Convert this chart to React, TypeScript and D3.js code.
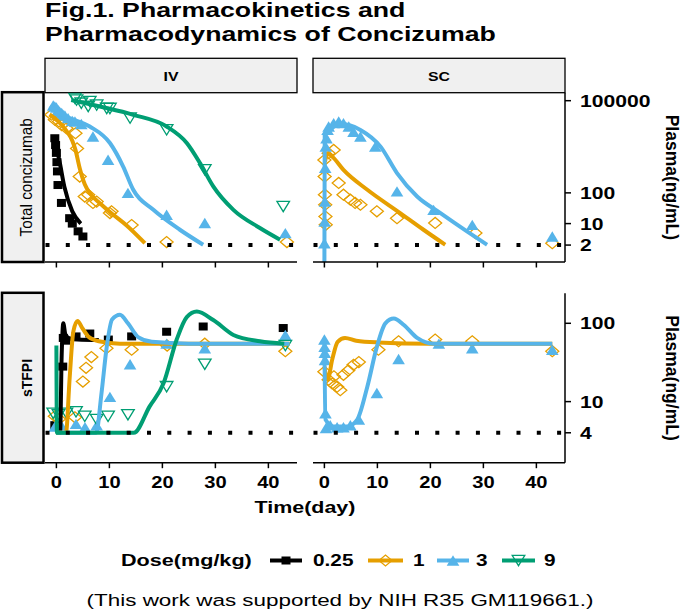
import React from 'react';
import * as d3 from 'd3';

type P = [number, number];

const DOSES = ['0.25', '1', '3', '9'];
const COLORS = ['#000000', '#E69F00', '#56B4E9', '#009E73'];
const ROUTES = ['IV', 'SC'];
const ANALYTES = ['Total concizumab', 'sTFPI'];
const X_TICKS = [0, 10, 20, 30, 40];
const PK_TICKS = [2, 10, 100, 100000];
const PD_TICKS = [4, 10, 100];
const PK_LLOQ = 2;
const PD_LLOQ = 4;

// ---- Total concizumab, IV ----
const IV_PK_025_OBS: P[] = [[-0.3, 6000], [-0.15, 3600], [0, 2000], [0.1, 1000], [0.2, 500], [0.3, 180], [0.95, 47], [2.5, 15], [3.0, 10], [4.1, 5.6], [5.0, 3.8]];
const IV_PK_025_FIT: P[] = [[-0.5, 5600], [0.5, 1260], [1.5, 160], [3.0, 25], [4.6, 10]];
const IV_PK_1_OBS: P[] = [[-0.95, 35000], [-0.3, 24000], [0.5, 21000], [1.0, 16000], [1.9, 12600], [3.6, 8700], [3.9, 2800], [4.4, 340], [5.35, 76], [6.0, 87], [6.9, 47], [7.6, 52], [10.1, 22], [10.4, 25], [14.2, 9], [20.8, 2.5], [43.5, 2.5]];
const IV_PK_1_FIT: P[] = [[-1.3, 35500], [0.5, 20000], [1.9, 10500], [3.0, 5000], [3.6, 2500], [4.4, 630], [5.35, 190], [6.5, 89], [8.2, 46], [10.5, 21], [13.2, 8.9], [16.7, 2.3]];
const IV_PK_3_OBS: P[] = [[-0.6, 70000], [-0.3, 65000], [0, 60000], [0.3, 50000], [0.6, 45000], [1.0, 40000], [1.25, 35000], [1.6, 33000], [2.2, 27000], [3.0, 22000], [3.5, 21000], [4.7, 17400], [6.9, 6800], [9.75, 1200], [13.5, 100], [20.8, 19.5], [28, 10.5], [43.2, 4.9]];
const IV_PK_3_FIT: P[] = [[-1.3, 64600], [1.9, 30200], [6.3, 14500], [10.1, 4200], [12.6, 720], [14.5, 126], [18.3, 28], [23.3, 6.3], [27.7, 2.05]];
const IV_PK_9_OBS: P[] = [[3.5, 120000], [3.8, 105000], [4.7, 83000], [6.0, 65000], [6.3, 93000], [7.6, 72000], [9.5, 56000], [10.1, 56000], [13.9, 27000], [20.8, 11200], [28, 560], [42.8, 36]];
const IV_PK_9_FIT: P[] = [[2.8, 105000], [8.2, 64600], [14.5, 34700], [20.8, 14500], [24.6, 4200], [27.1, 930], [29.6, 162], [33.4, 28], [38.4, 7.2], [42.2, 3.0]];

// ---- Total concizumab, SC ----
const SC_PK_1_OBS: P[] = [[0, 1170], [0.05, 340], [0.1, 87], [0.15, 41], [0.2, 17], [0.25, 9.1], [0.8, 1950], [1.75, 2500], [2.7, 210], [3.6, 87], [4.9, 60], [5.8, 47], [6.8, 41], [9.9, 25], [13.7, 15], [20.9, 10.5], [28.5, 4.9], [43, 2.3]];
const SC_PK_1_FIT: P[] = [[0.1, 1000], [0.6, 1900], [1.5, 1500], [3.6, 560], [8.1, 126], [14.3, 22], [18.7, 6.3], [22.8, 2.05]];
const SC_PK_3_OBS: P[] = [[0, 2.3], [0.05, 11.7], [0.1, 52], [0.15, 650], [0.25, 3200], [0.4, 6000], [0.6, 11200], [0.8, 14500], [1.75, 18600], [2.7, 21000], [3.6, 18600], [4.6, 14500], [5.5, 9800], [6.8, 6800], [9.6, 3200], [13.7, 112], [20.6, 28], [27.9, 9.1], [43, 3.8]];
const SC_PK_3_FIT: P[] = [[0, 0.3], [0.06, 7900], [1.1, 11200], [2.7, 18000], [6.8, 11200], [10.6, 3200], [13.7, 440], [17.5, 76], [21.9, 22], [26.9, 5.6], [30.7, 2.05]];

// ---- sTFPI, IV ----
const IV_PD_025_OBS: P[] = [[-0.3, 5.0], [1.2, 28], [1.3, 65], [1.8, 60], [3.7, 68], [6.3, 74], [9.8, 62], [14.2, 68], [20.8, 78], [27.7, 91], [42.8, 87]];
const IV_PD_025_FIT: P[] = [[0, 4], [0.7, 4], [1.0, 40], [1.3, 100], [1.7, 72], [2.5, 64], [4, 62], [8, 61]];
const IV_PD_1_OBS: P[] = [[-0.3, 6.5], [0.5, 6.0], [3.5, 6.3], [5.0, 18], [5.6, 27], [6.6, 37], [9.45, 48], [14.2, 46], [20.9, 52], [28, 55], [43.2, 44]];
const IV_PD_1_FIT: P[] = [[0, 4], [1.8, 4], [2.5, 20], [3.2, 79], [4.0, 107], [4.8, 89], [6, 68], [8, 59], [12, 55], [44, 55]];
const IV_PD_3_OBS: P[] = [[-0.3, 4.8], [0.9, 5.0], [3.7, 5.2], [5.4, 4.7], [7.6, 5.0], [10.1, 11.5], [13.9, 30], [20.8, 55], [28, 48], [43.2, 71]];
const IV_PD_3_FIT: P[] = [[0, 4], [7.5, 4], [8.5, 12.6], [9.5, 50], [10.5, 112], [12, 129], [13.5, 100], [15.5, 66], [18, 58], [25, 55], [44, 55]];
const IV_PD_9_OBS: P[] = [[-0.6, 7.1], [0.4, 6.8], [1.9, 7.1], [3.7, 7.4], [5.35, 6.5], [7.6, 5.9], [9.75, 6.5], [13.5, 6.8], [20.8, 15.5], [28, 30], [43.2, 52]];
const IV_PD_9_FIT: P[] = [[0, 52], [0.1, 4], [14.6, 4], [17.6, 8.7], [20.2, 17], [22.7, 62], [24.6, 120], [26.5, 141], [29.6, 110], [33.4, 71], [38.4, 59], [43, 55]];

// ---- sTFPI, SC ----
const SC_PD_1_OBS: P[] = [[0, 24], [0.8, 19], [1.5, 17], [1.8, 21], [2.4, 15.5], [3.0, 14], [3.6, 22], [4.5, 25], [5.5, 29.5], [6.5, 32], [10.2, 46], [14.0, 59], [20.9, 62], [27.9, 59], [43, 44]];
const SC_PD_1_FIT: P[] = [[0, 28], [0.6, 19], [1.5, 35], [2.5, 58], [3.9, 65], [6, 60], [10, 57], [20, 55], [43, 55]];
const SC_PD_3_OBS: P[] = [[0, 62], [0.04, 50], [0.08, 42], [0.12, 34], [0.2, 7.1], [0.3, 4.6], [1.1, 5.0], [2.4, 4.7], [3.6, 4.7], [4.9, 5.0], [6.5, 5.9], [9.9, 12.9], [14.0, 35], [21.6, 55], [27.9, 48], [43, 46]];
const SC_PD_3_FIT: P[] = [[0, 55], [0.2, 5.9], [1.75, 4.8], [4.3, 4.8], [6.2, 5.9], [8.1, 15.5], [9.9, 50], [11.5, 100], [13.1, 115], [15, 95], [17.5, 65], [20.6, 55], [43, 55]];

const FONT = '"Liberation Sans", Arial, Helvetica, sans-serif';

const COLS = [{ x0: 45, x1: 297 }, { x0: 313, x1: 565 }];
const ROWS = [{ y0: 92.7, y1: 262 }, { y0: 293.3, y1: 462.7 }];
const X_DOMAIN: [number, number] = [-2.15, 45.4];

const yPK = d3.scaleLog().domain([Math.pow(10, -0.25), Math.pow(10, 5.26)]).range([ROWS[0].y1, ROWS[0].y0]);
const yPD = d3.scaleLog().domain([Math.pow(10, 0.22), Math.pow(10, 2.383)]).range([ROWS[1].y1, ROWS[1].y0]);
const xScales = COLS.map(c => d3.scaleLinear().domain(X_DOMAIN).range([c.x0, c.x1]));

type Series = { dose: number; obs: P[]; fit: P[] };
const PANELS: { row: number; col: number; series: Series[] }[] = [
  { row: 0, col: 0, series: [
    { dose: 0, obs: IV_PK_025_OBS, fit: IV_PK_025_FIT },
    { dose: 1, obs: IV_PK_1_OBS, fit: IV_PK_1_FIT },
    { dose: 2, obs: IV_PK_3_OBS, fit: IV_PK_3_FIT },
    { dose: 3, obs: IV_PK_9_OBS, fit: IV_PK_9_FIT },
  ] },
  { row: 0, col: 1, series: [
    { dose: 1, obs: SC_PK_1_OBS, fit: SC_PK_1_FIT },
    { dose: 2, obs: SC_PK_3_OBS, fit: SC_PK_3_FIT },
  ] },
  { row: 1, col: 0, series: [
    { dose: 0, obs: IV_PD_025_OBS, fit: IV_PD_025_FIT },
    { dose: 1, obs: IV_PD_1_OBS, fit: IV_PD_1_FIT },
    { dose: 2, obs: IV_PD_3_OBS, fit: IV_PD_3_FIT },
    { dose: 3, obs: IV_PD_9_OBS, fit: IV_PD_9_FIT },
  ] },
  { row: 1, col: 1, series: [
    { dose: 1, obs: SC_PD_1_OBS, fit: SC_PD_1_FIT },
    { dose: 2, obs: SC_PD_3_OBS, fit: SC_PD_3_FIT },
  ] },
];

function ST(props: { x: number; y: number; s?: number; size: number; weight?: string; anchor?: string; rotate?: number; dy?: string; children: React.ReactNode }) {
  const { x, y, s = 1.28, size, weight = 'bold', anchor = 'start', rotate = 0, dy, children } = props;
  return (
    <text
      transform={`translate(${x},${y}) scale(${s},1)${rotate ? ` rotate(${rotate})` : ''}`}
      fontSize={size}
      fontWeight={weight}
      textAnchor={anchor as any}
      fontFamily={FONT}
      dy={dy}
      fill="#000"
    >
      {children}
    </text>
  );
}

function Marker({ dose, x, y }: { dose: number; x: number; y: number }) {
  const c = COLORS[dose];
  if (dose === 0) return <rect x={x - 4.5} y={y - 4} width={9} height={8} fill={c} />;
  if (dose === 1) {
    const w = 6.5, h = 5.5;
    return <path d={`M${x - w},${y}L${x},${y - h}L${x + w},${y}L${x},${y + h}Z`} fill="none" stroke={c} strokeWidth={1.3} />;
  }
  if (dose === 2) {
    const w = 6.3, h = 5.2;
    return <path d={`M${x - w},${y + h}L${x},${y - h}L${x + w},${y + h}Z`} fill={c} />;
  }
  const w = 6.3, h = 5.2;
  return <path d={`M${x - w},${y - h}L${x + w},${y - h}L${x},${y + h}Z`} fill="none" stroke={c} strokeWidth={1.3} />;
}

export default function App() {
  const W = 685, H = 612;
  return (
    <svg width={W} height={H} style={{ position: 'absolute', left: 0, top: 0, background: '#fff' }}>
      <rect x={0} y={0} width={W} height={H} fill="#fff" />
      <defs>
        {PANELS.map((p, i) => (
          <clipPath id={`clip${i}`} key={i}>
            <rect x={COLS[p.col].x0} y={ROWS[p.row].y0} width={COLS[p.col].x1 - COLS[p.col].x0} height={ROWS[p.row].y1 - ROWS[p.row].y0} />
          </clipPath>
        ))}
      </defs>

      {/* title */}
      <ST x={45} y={17} size={20} s={1.335}>Fig.1. Pharmacokinetics and</ST>
      <ST x={45} y={40.5} size={20} s={1.335}>Pharmacodynamics of Concizumab</ST>

      {/* top strips */}
      {COLS.map((c, i) => (
        <g key={i}>
          <rect x={c.x0} y={58.3} width={c.x1 - c.x0} height={ROWS[0].y0 - 58.3} fill="#f0f0f0" stroke="#000" strokeWidth={1.3} />
          <ST x={(c.x0 + c.x1) / 2} y={80.7} size={12.5} s={1.27} anchor="middle">{ROUTES[i]}</ST>
        </g>
      ))}

      {/* left strips */}
      {ROWS.map((r, i) => (
        <g key={i}>
          <rect x={2} y={r.y0 - 0.5} width={41.5} height={r.y1 - r.y0 + 0.5} fill="#f0f0f0" stroke="#000" strokeWidth={2.5} />
          {i === 0 ? (
            <ST x={31.5} y={(r.y0 + r.y1) / 2} size={15.3} s={1.05} weight="normal" anchor="middle" rotate={-90}>{ANALYTES[i]}</ST>
          ) : (
            <ST x={31.5} y={(r.y0 + r.y1) / 2} size={14} s={1.0} anchor="middle" rotate={-90}>{ANALYTES[i]}</ST>
          )}
        </g>
      ))}

      {/* panels */}
      {PANELS.map((p, i) => {
        const xs = xScales[p.col];
        const ys = p.row === 0 ? yPK : yPD;
        const line = d3.line<P>().x(d => xs(d[0])).y(d => ys(d[1])).curve(d3.curveMonotoneX);
        const lloq = p.row === 0 ? PK_LLOQ : PD_LLOQ;
        return (
          <g key={i}>
            <g clipPath={`url(#clip${i})`}>
              {p.series.map(s => (
                <g key={'o' + s.dose}>
                  {s.obs.map((d, j) => <Marker key={j} dose={s.dose} x={xs(d[0])} y={ys(d[1])} />)}
                </g>
              ))}
              {p.series.map(s => (
                <path key={'f' + s.dose} d={line(s.fit) || ''} fill="none" stroke={COLORS[s.dose]} strokeWidth={4} strokeLinejoin="round" />
              ))}
            </g>
            <line x1={COLS[p.col].x0 + 0.5} x2={COLS[p.col].x1} y1={ys(lloq)} y2={ys(lloq)} stroke="#000" strokeWidth={4} strokeDasharray="4,16.3" />
          </g>
        );
      })}

      {/* x axes */}
      {ROWS.map((r, ri) =>
        COLS.map((c, ci) => (
          <g key={`${ri}-${ci}`}>
            <line x1={c.x0} x2={c.x1} y1={r.y1} y2={r.y1} stroke="#000" strokeWidth={1.5} />
            {X_TICKS.map(t => (
              <line key={t} x1={xScales[ci](t)} x2={xScales[ci](t)} y1={r.y1} y2={r.y1 + 5.5} stroke="#000" strokeWidth={1.5} />
            ))}
            {ri === 1 && X_TICKS.map(t => (
              <ST key={'l' + t} x={xScales[ci](t)} y={487.7} size={16.5} s={1.22} anchor="middle">{t}</ST>
            ))}
          </g>
        ))
      )}

      {/* right y axes */}
      {ROWS.map((r, ri) => {
        const ys = ri === 0 ? yPK : yPD;
        const ticks = ri === 0 ? PK_TICKS : PD_TICKS;
        const xa = COLS[1].x1;
        return (
          <g key={ri}>
            <line x1={xa} x2={xa} y1={r.y0} y2={r.y1} stroke="#000" strokeWidth={1.5} />
            {ticks.map(t => (
              <g key={t}>
                <line x1={xa} x2={xa + 6} y1={ys(t)} y2={ys(t)} stroke="#000" strokeWidth={1.5} />
                <ST x={580} y={ys(t)} size={16.5} s={1.28} dy="0.36em">{t}</ST>
              </g>
            ))}
            <ST x={666} y={(r.y0 + r.y1) / 2} size={17.5} s={1.0} anchor="middle" rotate={90}>Plasma(ng/mL)</ST>
          </g>
        );
      })}

      {/* x title */}
      <ST x={305} y={513} size={16} s={1.34} anchor="middle">Time(day)</ST>

      {/* legend */}
      <ST x={121} y={566} size={16} s={1.35}>Dose(mg/kg)</ST>
      {[
        { k0: 270, k1: 302, lx: 313 },
        { k0: 368, k1: 403, lx: 413 },
        { k0: 437, k1: 469, lx: 476 },
        { k0: 502, k1: 535, lx: 544 },
      ].map((L, i) => (
        <g key={i}>
          <line x1={L.k0} x2={L.k1} y1={560.5} y2={560.5} stroke={COLORS[i]} strokeWidth={4} />
          <Marker dose={i} x={(L.k0 + L.k1) / 2} y={560.5} />
          <ST x={L.lx} y={566} size={16} s={1.3}>{DOSES[i]}</ST>
        </g>
      ))}

      {/* caption */}
      <ST x={340} y={606} size={17} s={1.32} weight="normal" anchor="middle">(This work was supported by NIH R35 GM119661.)</ST>
    </svg>
  );
}
